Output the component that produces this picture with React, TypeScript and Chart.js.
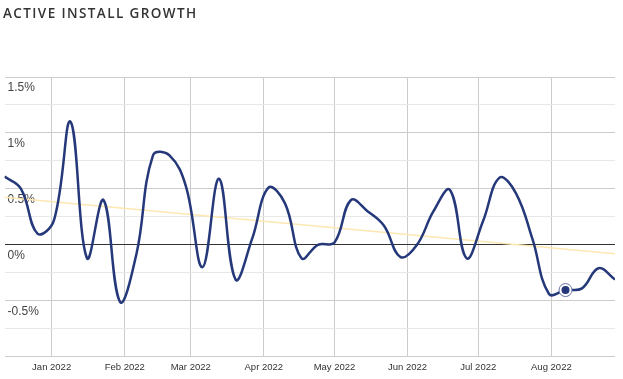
import React, { useEffect, useRef } from 'react';
import { Chart, registerables } from 'chart.js';

Chart.register(...registerables);

// Weekly observation dates (Sundays)
const weekDates = [
  '2021-12-12', '2021-12-19', '2021-12-26', '2022-01-02', '2022-01-09', '2022-01-16',
  '2022-01-23', '2022-01-30', '2022-02-06', '2022-02-13', '2022-02-20', '2022-02-27',
  '2022-03-06', '2022-03-13', '2022-03-20', '2022-03-27', '2022-04-03', '2022-04-10',
  '2022-04-17', '2022-04-24', '2022-05-01', '2022-05-08', '2022-05-15', '2022-05-22',
  '2022-05-29', '2022-06-05', '2022-06-12', '2022-06-19', '2022-06-26', '2022-07-03',
  '2022-07-10', '2022-07-17', '2022-07-24', '2022-07-31', '2022-08-07', '2022-08-14',
  '2022-08-21', '2022-08-28',
];

// Active install growth, percent
const growthPct = [
  0.61, 0.50, 0.10, 0.22, 1.10, -0.12,
  0.40, -0.51, -0.08, 0.80, 0.80, 0.52,
  -0.20, 0.59, -0.31, 0.05, 0.51, 0.37,
  -0.12, 0.00, 0.02, 0.40, 0.30, 0.17,
  -0.11, 0.00, 0.30, 0.49, -0.12, 0.21,
  0.60, 0.46, 0.05, -0.44, -0.405, -0.39,
  -0.21, -0.31,
];

// Linear trend line end values, percent
const trendPct = [0.425, -0.08];

const monthStarts = ['2022-01-01', '2022-02-01', '2022-03-01', '2022-04-01', '2022-05-01', '2022-06-01', '2022-07-01', '2022-08-01'];
const monthLabels = ['Jan 2022', 'Feb 2022', 'Mar 2022', 'Apr 2022', 'May 2022', 'Jun 2022', 'Jul 2022', 'Aug 2022'];

const yTickValues = [-1, -0.75, -0.5, -0.25, 0, 0.25, 0.5, 0.75, 1, 1.25, 1.5];
const yTickLabels = ['', '', '-0.5%', '', '0%', '', '0.5%', '', '1%', '', '1.5%'];

const highlightIndex = 34;

const NAVY = '#25387a';
const DAY = 86400000;
const ORIGIN = Date.parse('2022-01-01T00:00:00Z');
const toDay = (s: string) => (Date.parse(s + 'T00:00:00Z') - ORIGIN) / DAY;

export default function App() {
  const ref = useRef<HTMLCanvasElement | null>(null);

  useEffect(() => {
    document.body.style.margin = '0';
    const canvas = ref.current;
    if (!canvas) return;
    const xs = weekDates.map(toDay);
    const monthDays = monthStarts.map(toDay);
    const points = xs.map((x, i) => ({ x, y: growthPct[i] }));
    const hl = [{ x: xs[highlightIndex], y: growthPct[highlightIndex] }];

    const chart = new Chart(canvas, {
      type: 'line',
      data: {
        datasets: [
          {
            data: points,
            borderColor: NAVY,
            borderWidth: 2.5,
            pointRadius: 0,
            tension: 0.4,
            fill: false,
            order: 3,
          },
          {
            data: [
              { x: xs[0], y: trendPct[0] },
              { x: xs[xs.length - 1], y: trendPct[1] },
            ],
            borderColor: '#fde7b2',
            borderWidth: 1.5,
            pointRadius: 0,
            tension: 0,
            fill: false,
            order: 4,
          },
          {
            data: hl,
            showLine: false,
            pointRadius: 6.5,
            pointBackgroundColor: '#ffffff',
            pointBorderColor: '#6573a6',
            pointBorderWidth: 1,
            order: 2,
          },
          {
            data: hl,
            showLine: false,
            pointRadius: 4,
            pointBackgroundColor: NAVY,
            pointBorderWidth: 0,
            order: 1,
          },
        ],
      },
      options: {
        responsive: false,
        animation: false,
        events: [],
        layout: { padding: { left: 1, right: 8, top: 77, bottom: 1 } },
        plugins: { legend: { display: false }, tooltip: { enabled: false }, title: { display: false } },
        scales: {
          x: {
            type: 'linear',
            min: xs[0],
            max: xs[xs.length - 1],
            afterBuildTicks: (axis: any) => {
              axis.ticks = monthDays.map((v) => ({ value: v }));
            },
            ticks: {
              autoSkip: false,
              maxRotation: 0,
              padding: 5,
              color: '#333',
              font: { family: 'Liberation Sans, Arial, sans-serif', size: 9.5 },
              callback: (value: any) => {
                const i = monthDays.indexOf(Number(value));
                return i >= 0 ? monthLabels[i] : '';
              },
            },
            grid: { color: '#cccccc', drawTicks: false },
            border: { display: false },
          },
          y: {
            min: -1,
            max: 1.5,
            afterBuildTicks: (axis: any) => {
              axis.ticks = yTickValues.map((v) => ({ value: v }));
            },
            afterFit: (axis: any) => {
              axis.width = 0;
            },
            ticks: {
              mirror: true,
              padding: 3,
              labelOffset: 11,
              color: '#444',
              font: { family: 'Liberation Sans, Arial, sans-serif', size: 12 },
              callback: (value: any) => {
                const i = yTickValues.indexOf(Number(value));
                return i >= 0 ? yTickLabels[i] : '';
              },
            },
            grid: {
              drawTicks: false,
              color: (ctx: any) => {
                const v = ctx.tick ? ctx.tick.value : NaN;
                if (v === 0) return '#333333';
                if (Math.abs(v * 2 - Math.round(v * 2)) < 1e-9) return '#cccccc';
                return '#e8e8e8';
              },
            },
            border: { display: false },
          },
        },
      },
    } as any);
    return () => chart.destroy();
  }, []);

  return (
    <div style={{ position: 'relative', width: 623, height: 379, background: '#fff', overflow: 'hidden' }}>
      <canvas ref={ref} width={626} height={379} style={{ position: 'absolute', left: -3, top: 0 }} />
      <div
        style={{
          position: 'absolute',
          left: 3,
          top: 4,
          fontFamily: '"Open Sans", sans-serif',
          fontWeight: 600,
          fontSize: 13.5,
          letterSpacing: 1.4,
          color: '#333',
          whiteSpace: 'nowrap',
        }}
      >
        ACTIVE INSTALL GROWTH
      </div>
    </div>
  );
}
